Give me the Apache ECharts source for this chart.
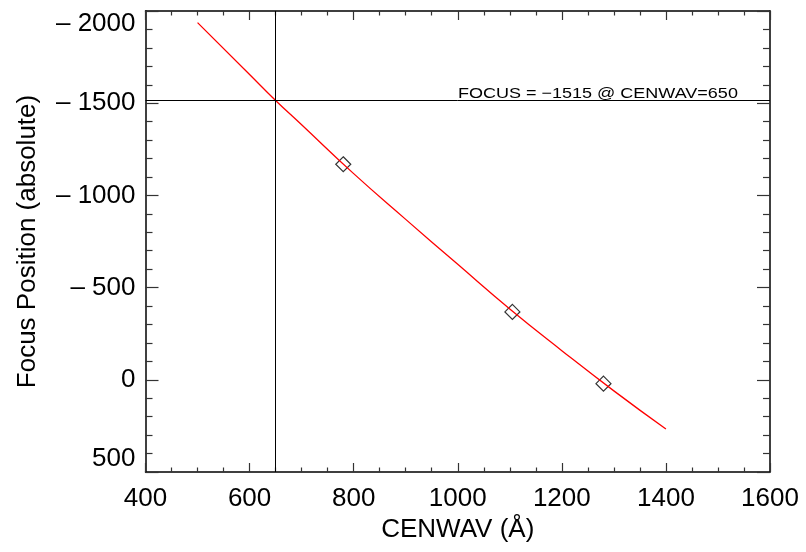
<!DOCTYPE html>
<html>
<head>
<meta charset="utf-8">
<script src="https://cdn.jsdelivr.net/npm/echarts@6/dist/echarts.min.js"></script>
<style>
html, body { margin: 0; padding: 0; background: #fff; }
#chart { width: 806px; height: 552px; }
</style>
</head>
<body>
<div id="chart"></div>
<script>
// fitted focus curve
var fitWave  = [500, 600, 650, 700, 800, 900, 1000, 1100, 1200, 1300, 1400];
var fitFocus = [-1937, -1656, -1515, -1383, -1118, -870, -626, -384, -158, 60, 267];

// measured points (diamonds)
var measWave  = [780, 1105, 1280];
var measFocus = [-1169, -368, 21];

var xTicks = [400, 600, 800, 1000, 1200, 1400, 1600];
var yTicks = [-2000, -1500, -1000, -500, 0, 500];

var cenwav = 650, focusAt = -1515;
var note = 'FOCUS = \u22121515 @ CENWAV=650';

var FONT = 'Liberation Sans, Arial, Helvetica, sans-serif';
var FSIZE = 26;

function pairs(xs, ys){
	var out = [];
	for(var i=0; i<xs.length; i++){
		out.push([xs[i], ys[i]]);
	}
	return out;
}
function minus(v){ //IDL style long dash, with a gap after it
	return String(v).replace('-', '\u2013 ');
}

function xAxisCfg(pos, showLabel){
	return {
		type: 'value',
		position: pos,
		min: xTicks[0],
		max: xTicks[xTicks.length - 1],
		interval: 200,
		name: showLabel ? 'CENWAV (\u00c5)' : '',
		nameLocation: 'middle',
		nameGap: 44,
		nameTextStyle: { fontFamily: FONT, fontSize: FSIZE, color: '#000' },
		axisLine: { onZero: false, lineStyle: { color: '#000', width: 1.5 } },
		axisTick: { inside: true, length: 9, lineStyle: { color: '#333', width: 1.2 } },
		minorTick: { show: true, splitNumber: 4, length: 4.5, lineStyle: { color: '#333', width: 1.2 } },
		axisLabel: { show: showLabel, margin: 14, fontFamily: FONT, fontSize: FSIZE, color: '#000', formatter: minus },
		splitLine: { show: false }
	};
}
function yAxisCfg(pos, showLabel){
	return {
		type: 'value',
		position: pos,
		inverse: true,
		min: yTicks[0],
		max: yTicks[yTicks.length - 1],
		interval: 500,
		name: showLabel ? 'Focus Position (absolute)' : '',
		nameLocation: 'middle',
		nameGap: 105,
		nameTextStyle: { fontFamily: FONT, fontSize: FSIZE, color: '#000' },
		axisLine: { onZero: false, lineStyle: { color: '#000', width: 1.5 } },
		axisTick: { inside: true, length: 13, lineStyle: { color: '#333', width: 1.2 } },
		minorTick: { show: true, splitNumber: 5, length: 7, lineStyle: { color: '#333', width: 1.2 } },
		axisLabel: {
			show: showLabel, margin: 10, fontFamily: FONT, fontSize: FSIZE, color: '#000',
			formatter: minus,
			verticalAlignMinLabel: 'top',
			verticalAlignMaxLabel: 'bottom'
		},
		splitLine: { show: false }
	};
}

var option = {
	backgroundColor: '#fff',
	animation: false,
	grid: { left: 145.5, right: 36, top: 11, bottom: 80 },
	xAxis: [ xAxisCfg('bottom', true), xAxisCfg('top', false) ],
	yAxis: [ yAxisCfg('left', true), yAxisCfg('right', false) ],
	graphic: [{
		type: 'text',
		x: 458,
		y: 86,
		scaleX: 1.2,
		style: { text: note, font: '15px ' + FONT, fill: '#000' }
	}],
	series: [
		{
			type: 'line',
			data: pairs(fitWave, fitFocus),
			smooth: true,
			showSymbol: false,
			lineStyle: { color: '#ff0000', width: 1.3 },
			markLine: {
				silent: true,
				symbol: 'none',
				label: { show: false },
				lineStyle: { color: '#000', width: 1, type: 'solid' },
				data: [ { xAxis: cenwav }, { yAxis: focusAt } ]
			}
		},
		{
			type: 'scatter',
			data: pairs(measWave, measFocus),
			symbol: 'diamond',
			symbolSize: [15, 15],
			itemStyle: { color: 'rgba(0,0,0,0)', borderColor: '#000', borderWidth: 1.2 }
		}
	]
};

var myChart = echarts.init(document.getElementById('chart'));
myChart.setOption(option);
</script>
</body>
</html>
